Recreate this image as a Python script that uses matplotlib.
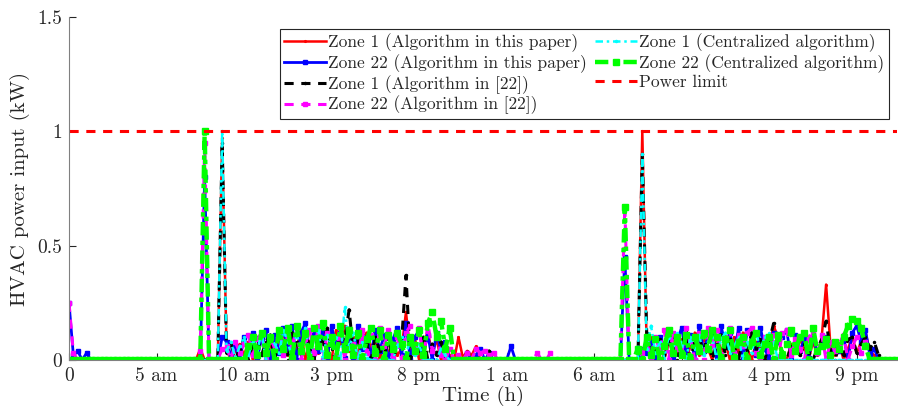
import numpy as np
import matplotlib
matplotlib.use("Agg")
import matplotlib.pyplot as plt

plt.rcParams['font.family'] = 'serif'
plt.rcParams['font.serif'] = ['cmr10']
plt.rcParams['mathtext.fontset'] = 'cm'
plt.rcParams['axes.formatter.use_mathtext'] = True

# ---------------- data (15-min resolution) ----------------
step = 0.25
t_end = 47.25
power_limit = 1.0

xtick_hours = [0, 5, 10, 15, 20, 25, 30, 35, 40, 45]
xtick_labels = ['0', '5 am', '10 am', '3 pm', '8 pm', '1 am', '6 am', '11 am', '4 pm', '9 pm']
ytick_vals = [0, 0.5, 1, 1.5]
ytick_labels = ['0', '0.5', '1', '1.5']

# segment start hours
early_start = 0.0
spike1_start = 7.25
day1_start = 9.0
spike2_start = 31.25
day2_start = 33.0

# ---- Zone 1, algorithm in this paper (red) ----
red_early = [0, 0, 0, 0, 0, 0]
red_spike1 = [0, 0.05, 0, 0, 0, 0, 0.97]
red_day1 = [0.05, 0.0, 0.04, 0.07, 0.02, 0.08, 0.0, 0.06, 0.1, 0.03, 0.07, 0.0,
            0.09, 0.12, 0.02, 0.1, 0.05, 0.13, 0.0, 0.08, 0.11, 0.03, 0.12, 0.06,
            0.0, 0.13, 0.07, 0.15, 0.04, 0.1, 0.02, 0.09, 0.12, 0.05, 0.1, 0.0,
            0.07, 0.03, 0.09, 0.02, 0.05, 0.21, 0.03, 0.1, 0.0, 0.08, 0.12, 0.03,
            0.09, 0.0, 0.06, 0.02, 0.0, 0.1, 0.01, 0.04, 0.02, 0.06, 0.0, 0.0]
red_spike2 = [0, 0, 0, 0, 0, 0, 1.0]
red_day2 = [0.05, 0.1, 0.02, 0.08, 0.0, 0.07, 0.11, 0.03, 0.09, 0.0, 0.06, 0.12,
            0.02, 0.1, 0.05, 0.0, 0.11, 0.04, 0.08, 0.0, 0.1, 0.03, 0.12, 0.05,
            0.0, 0.08, 0.04, 0.1, 0.06, 0.15, 0.1, 0.02, 0.0, 0.07, 0.03, 0.09,
            0.05, 0.0, 0.08, 0.02, 0.1, 0.33, 0.06, 0.02, 0.07, 0.0, 0.05, 0.1,
            0.03, 0.08, 0.12, 0.04, 0.02, 0.0, 0.0]

# ---- Zone 22, algorithm in this paper (blue) ----
blue_early = [0.25, 0.02, 0.04, 0.0, 0.03, 0.0]
blue_spike1 = [0, 0, 0.8, 0, 0, 0, 0.1]
blue_day1 = [0.08, 0.02, 0.06, 0.0, 0.1, 0.04, 0.12, 0.01, 0.09, 0.13, 0.0, 0.11,
             0.03, 0.14, 0.05, 0.15, 0.0, 0.12, 0.16, 0.02, 0.14, 0.04, 0.13, 0.0,
             0.15, 0.06, 0.14, 0.01, 0.12, 0.0, 0.15, 0.05, 0.1, 0.02, 0.13, 0.04,
             0.11, 0.0, 0.09, 0.14, 0.02, 0.16, 0.0, 0.1, 0.13, 0.03, 0.11, 0.0,
             0.12, 0.04, 0.08, 0.0, 0.0, 0.0, 0.0, 0.03, 0.0, 0.02, 0.05, 0.0,
             0.03, 0.0, 0.0, 0.0, 0.0, 0.06, 0.0, 0.0]
blue_spike2 = [0, 0, 0.45, 0, 0, 0, 0.05]
blue_day2 = [0.03, 0.08, 0.0, 0.1, 0.06, 0.12, 0.01, 0.09, 0.14, 0.02, 0.11, 0.0,
             0.15, 0.04, 0.1, 0.13, 0.0, 0.15, 0.06, 0.12, 0.03, 0.14, 0.0, 0.13,
             0.1, 0.02, 0.14, 0.05, 0.0, 0.12, 0.08, 0.1, 0.13, 0.0, 0.11, 0.04,
             0.09, 0.01, 0.1, 0.03, 0.08, 0.1, 0.02, 0.06, 0.04, 0.1, 0.0, 0.12,
             0.15, 0.08, 0.13, 0.02, 0.05, 0.0, 0.0]

# ---- Zone 1, algorithm in [22] (black) ----
black_early = [0, 0, 0, 0, 0, 0]
black_spike1 = [0, 0, 0, 0, 0, 0, 0.95]
black_day1 = [0.03, 0.07, 0.0, 0.05, 0.09, 0.0, 0.06, 0.1, 0.02, 0.08, 0.11, 0.0,
              0.1, 0.06, 0.0, 0.12, 0.08, 0.02, 0.13, 0.05, 0.0, 0.11, 0.07, 0.14,
              0.05, 0.0, 0.12, 0.08, 0.22, 0.03, 0.09, 0.0, 0.07, 0.0, 0.1, 0.04,
              0.02, 0.09, 0.0, 0.06, 0.08, 0.37, 0.0, 0.05, 0.04, 0.1, 0.0, 0.07,
              0.02, 0.08, 0.0, 0.0, 0.0, 0.0, 0.0, 0.0, 0.0, 0.0, 0.0, 0.0,
              0.04, 0.0, 0.0, 0.0]
black_spike2 = [0, 0, 0, 0, 0, 0, 0.9]
black_day2 = [0.12, 0.0, 0.05, 0.09, 0.02, 0.07, 0.1, 0.0, 0.06, 0.13, 0.0, 0.08,
              0.1, 0.03, 0.12, 0.0, 0.07, 0.11, 0.02, 0.09, 0.06, 0.0, 0.1, 0.04,
              0.12, 0.05, 0.09, 0.0, 0.08, 0.16, 0.1, 0.03, 0.0, 0.06, 0.09, 0.02,
              0.07, 0.03, 0.0, 0.05, 0.09, 0.17, 0.04, 0.0, 0.06, 0.02, 0.09, 0.1,
              0.03, 0.07, 0.1, 0.05, 0.08, 0.02, 0.0]

# ---- Zone 22, algorithm in [22] (magenta) ----
mag_early = [0.25, 0.03, 0.0, 0.0, 0.0, 0.0]
mag_spike1 = [0, 0.04, 0.95, 0, 0, 0, 0.05]
mag_day1 = [0.06, 0.0, 0.08, 0.03, 0.07, 0.11, 0.02, 0.09, 0.12, 0.0, 0.1, 0.05,
            0.13, 0.02, 0.11, 0.06, 0.14, 0.0, 0.09, 0.13, 0.03, 0.15, 0.0, 0.12,
            0.1, 0.02, 0.14, 0.0, 0.12, 0.07, 0.0, 0.13, 0.03, 0.11, 0.0, 0.14,
            0.06, 0.13, 0.01, 0.1, 0.0, 0.12, 0.15, 0.03, 0.14, 0.0, 0.16, 0.04,
            0.11, 0.02, 0.0, 0.05, 0.0, 0.02, 0.0, 0.03, 0.0, 0.05, 0.03, 0.04,
            0.02, 0.03, 0.0, 0.0, 0.0, 0.0, 0.0, 0.0, 0.0, 0.0, 0.0, 0.03,
            0.0, 0.0, 0.03, 0.0]
mag_spike2 = [0, 0, 0.67, 0, 0, 0, 0.03]
mag_day2 = [0.08, 0.01, 0.1, 0.04, 0.13, 0.0, 0.12, 0.05, 0.03, 0.14, 0.09, 0.0,
            0.12, 0.0, 0.14, 0.06, 0.13, 0.02, 0.1, 0.14, 0.0, 0.11, 0.06, 0.12,
            0.14, 0.03, 0.0, 0.1, 0.04, 0.11, 0.0, 0.12, 0.13, 0.02, 0.09, 0.05,
            0.0, 0.1, 0.12, 0.03, 0.11, 0.0, 0.08, 0.04, 0.07, 0.11, 0.0, 0.06,
            0.1, 0.03, 0.08, 0.0, 0.0, 0.0, 0.0]

# ---- Zone 1, centralized algorithm (cyan) ----
cyan_early = [0, 0, 0, 0, 0, 0]
cyan_spike1 = [0, 0, 0, 0, 0, 0, 1.0]
cyan_day1 = [0.04, 0.08, 0.01, 0.06, 0.1, 0.02, 0.09, 0.04, 0.12, 0.0, 0.1, 0.07,
             0.03, 0.13, 0.08, 0.0, 0.12, 0.04, 0.14, 0.01, 0.09, 0.13, 0.0, 0.11,
             0.06, 0.1, 0.0, 0.23, 0.05, 0.12, 0.0, 0.08, 0.01, 0.0, 0.0, 0.0,
             0.0, 0.0, 0.0, 0.06, 0.1, 0.03, 0.08, 0.02, 0.07, 0.0, 0.0, 0.0,
             0.0, 0.05, 0.02, 0.0]
cyan_spike2 = [0, 0, 0, 0, 0, 0, 0.9]
cyan_day2 = [0.05, 0.15, 0.03, 0.08, 0.01, 0.1, 0.04, 0.12, 0.07, 0.0, 0.1, 0.05,
             0.11, 0.02, 0.08, 0.1, 0.0, 0.09, 0.12, 0.03, 0.06, 0.1, 0.0, 0.08,
             0.03, 0.12, 0.05, 0.1, 0.12, 0.08, 0.0, 0.0]

# ---- Zone 22, centralized algorithm (green) ----
green_early = [0, 0, 0, 0, 0, 0]
green_spike1 = [0, 0, 1.0, 0, 0, 0, 0]
green_day1 = [0.0, 0.0, 0.0, 0.0, 0.0, 0.06, 0.1, 0.02, 0.12, 0.03, 0.1, 0.0,
              0.13, 0.05, 0.14, 0.01, 0.15, 0.04, 0.12, 0.0, 0.14, 0.06, 0.16, 0.02,
              0.1, 0.0, 0.15, 0.05, 0.13, 0.02, 0.12, 0.0, 0.09, 0.14, 0.03, 0.13,
              0.0, 0.11, 0.05, 0.12, 0.07, 0.0, 0.1, 0.04, 0.13, 0.02, 0.16, 0.21,
              0.1, 0.17, 0.05, 0.14, 0.0]
green_spike2 = [0, 0, 0.67, 0, 0, 0.05, 0]
green_day2 = [0.1, 0.02, 0.09, 0.0, 0.06, 0.13, 0.03, 0.1, 0.02, 0.11, 0.0, 0.1,
              0.04, 0.12, 0.05, 0.13, 0.1, 0.0, 0.09, 0.13, 0.01, 0.08, 0.1, 0.0,
              0.08, 0.12, 0.02, 0.07, 0.1, 0.0, 0.11, 0.02, 0.07, 0.13, 0.04, 0.1,
              0.12, 0.0, 0.14, 0.04, 0.06, 0.09, 0.02, 0.08, 0.05, 0.1, 0.15, 0.18,
              0.17, 0.14, 0.06, 0.0, 0.0, 0.0, 0.0]

# ---------------- assemble ----------------
t = np.arange(0, t_end + step / 2, step)


def build(segments):
    y = np.zeros_like(t)
    for start, vals in segments:
        i0 = int(round(start / step))
        v = np.asarray(vals, dtype=float)
        n = min(len(v), len(y) - i0)
        y[i0:i0 + n] = v[:n]
    return y


def series(early, s1, d1, s2, d2):
    return build([(early_start, early), (spike1_start, s1), (day1_start, d1),
                  (spike2_start, s2), (day2_start, d2)])


red = series(red_early, red_spike1, red_day1, red_spike2, red_day2)
blue = series(blue_early, blue_spike1, blue_day1, blue_spike2, blue_day2)
black = series(black_early, black_spike1, black_day1, black_spike2, black_day2)
mag = series(mag_early, mag_spike1, mag_day1, mag_spike2, mag_day2)
cyan = series(cyan_early, cyan_spike1, cyan_day1, cyan_spike2, cyan_day2)
green = series(green_early, green_spike1, green_day1, green_spike2, green_day2)

# ---------------- plot ----------------
fig = plt.figure(figsize=(8.98, 4.16), dpi=100)
ax = fig.add_axes([69 / 898, 1 - 360 / 416, (897 - 69) / 898, (360 - 17) / 416])

ax.plot(t, red, color='#ff0000', lw=1.8, ls='-', marker='.', ms=2.5,
        label='Zone 1 (Algorithm in this paper)')
ax.plot(t, blue, color='#0000ff', lw=2.0, ls='-', marker='s', ms=3.2,
        label='Zone 22 (Algorithm in this paper)')
ax.plot(t, black, color='#000000', lw=2.2, ls=(0, (3, 2.5)), marker='.', ms=3,
        label='Zone 1 (Algorithm in [22])')
ax.plot(t, mag, color='#ff00ff', lw=2.2, ls=(0, (3, 2.5)), marker='s', ms=3.5,
        label='Zone 22 (Algorithm in [22])')
ax.plot(t, cyan, color='#00ffff', lw=1.8, ls=(0, (3, 1.5, 1, 1.5)), marker='.', ms=3,
        label='Zone 1 (Centralized algorithm)')
ax.plot(t, green, color='#00ff00', lw=3.2, ls=(0, (3, 1.2, 1, 1.2)), marker='s', ms=4,
        label='Zone 22 (Centralized algorithm)')
ax.axhline(power_limit, color='#ff0000', lw=2.2, ls=(0, (3, 2.5)), label='Power limit')

ax.set_xlim(0, t_end + 0.05)
ax.set_ylim(0, 1.5)
ax.set_xticks(xtick_hours)
ax.set_xticklabels(xtick_labels)
ax.set_yticks(ytick_vals)
ax.set_yticklabels(ytick_labels)
ax.tick_params(direction='in', length=5, width=0.8, colors='#262626', labelsize=14, pad=5)
for side in ['top', 'right']:
    ax.spines[side].set_visible(False)
for side in ['left', 'bottom']:
    ax.spines[side].set_color('#808080')
    ax.spines[side].set_linewidth(0.8)

ax.set_xlabel('Time (h)', fontsize=15, color='#262626', labelpad=1)
ax.set_ylabel('HVAC power input (kW)', fontsize=15, color='#262626', labelpad=5)

leg = ax.legend(loc='upper right', bbox_to_anchor=(0.99, 0.965), ncol=2, fontsize=12.5,
                handlelength=2.4, handletextpad=0.12, labelspacing=0.12,
                columnspacing=0.5, borderpad=0.25, borderaxespad=0.0,
                frameon=True, fancybox=False, framealpha=1.0)
leg.get_frame().set_edgecolor('#262626')
leg.get_frame().set_linewidth(0.8)
for txt in leg.get_texts():
    txt.set_color('#262626')

fig.savefig('out.png', dpi=100)
